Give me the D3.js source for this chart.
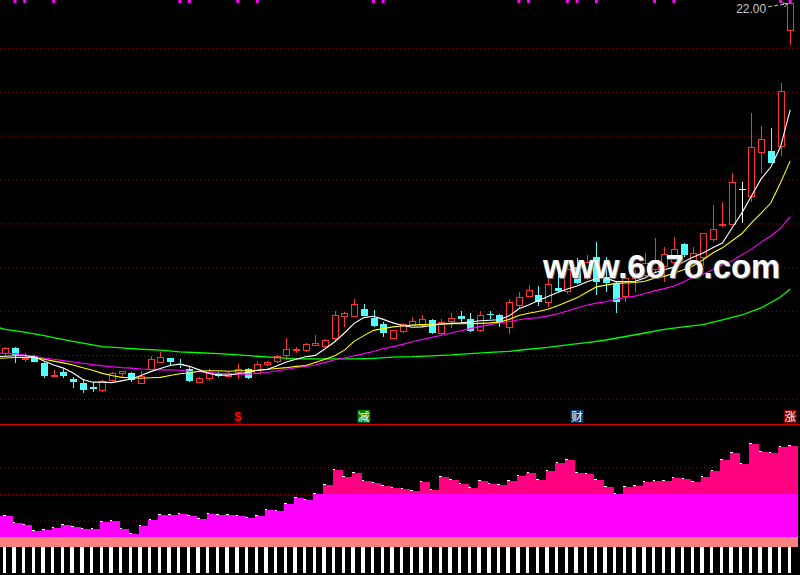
<!DOCTYPE html>
<html>
<head>
<meta charset="utf-8">
<script src="https://cdn.jsdelivr.net/npm/d3@7"></script>
<style>
  html, body { margin: 0; padding: 0; background: #000; }
  svg { display: block; }
</style>
</head>
<body>
<div id="chart"></div>
<script>
// daily candles, index 0..81
var opens = [14.03,14.14,13.88,13.97,13.80,13.49,13.61,13.44,13.36,13.25,
  13.17,13.40,13.56,13.57,13.34,13.65,13.81,13.91,13.78,13.67,
  13.37,13.46,13.57,13.51,13.59,13.66,13.57,13.77,13.84,13.97,
  14.08,14.09,14.21,14.19,14.36,14.86,14.86,15.04,14.84,14.69,
  14.37,14.52,14.67,14.65,14.79,14.47,14.75,14.88,14.80,14.54,
  14.93,14.91,14.62,15.12,15.32,15.36,15.18,15.51,15.43,16.00,
  15.74,16.21,15.77,15.62,15.32,15.74,15.79,15.93,16.00,16.09,
  16.52,16.11,16.20,16.61,16.93,16.97,17.75,17.59,18.60,18.64,
  18.73,21.38];
var highs = [14.18,14.16,14.04,13.99,13.84,13.65,13.66,13.49,13.44,13.34,
  13.42,13.59,13.62,13.61,13.63,13.97,14.06,13.92,13.89,13.72,
  13.48,13.66,13.61,13.60,13.78,13.69,13.86,13.86,13.98,14.37,
  14.16,14.26,14.44,14.35,14.98,14.97,15.26,15.15,15.01,14.75,
  14.56,14.72,14.85,14.91,14.80,14.82,14.94,15.00,14.94,14.98,
  14.98,14.92,15.26,15.43,15.58,15.56,15.78,15.93,16.11,16.19,
  16.27,16.57,16.21,15.66,15.77,15.93,16.31,16.65,16.46,16.67,
  16.55,16.45,16.77,17.41,17.48,18.13,17.94,19.51,19.21,19.15,
  20.19,22.00];
var lows = [13.97,13.80,13.83,13.83,13.47,13.48,13.47,13.24,13.13,13.15,
  13.15,13.38,13.47,13.38,13.33,13.65,13.81,13.76,13.69,13.38,
  13.36,13.40,13.49,13.49,13.44,13.45,13.57,13.74,13.81,13.88,
  14.04,14.06,14.21,14.18,14.29,14.63,14.86,14.88,14.63,14.41,
  14.35,14.50,14.65,14.63,14.47,14.44,14.60,14.72,14.52,14.52,
  14.80,14.62,14.47,15.05,15.31,15.11,15.08,15.43,15.38,15.61,
  15.70,15.36,15.43,14.95,15.20,15.43,15.74,15.89,15.66,16.04,
  16.21,16.06,16.02,16.57,16.91,16.97,17.00,17.48,18.13,18.37,
  18.52,21.05];
var closes = [14.14,13.99,13.91,13.84,13.51,13.52,13.51,13.38,13.19,13.21,
  13.38,13.57,13.62,13.42,13.51,13.88,13.94,13.83,13.75,13.40,
  13.46,13.59,13.52,13.57,13.65,13.47,13.78,13.82,13.96,14.12,
  14.12,14.23,14.24,14.33,14.88,14.94,15.13,14.88,14.65,14.48,
  14.54,14.68,14.76,14.80,14.50,14.72,14.82,14.81,14.54,14.88,
  14.89,14.72,15.18,15.30,15.45,15.20,15.60,15.45,15.93,15.62,
  16.09,15.66,15.62,15.20,15.74,15.85,16.08,16.15,16.27,16.40,
  16.26,16.31,16.75,16.84,16.95,17.92,17.75,18.72,18.89,18.37,
  20.00,22.00];

// moving averages, index -1..81
var ma5 = [13.95,13.96,13.97,13.97,13.95,13.85,13.76,13.69,13.58,13.43,13.37,
  13.37,13.36,13.40,13.44,13.52,13.61,13.68,13.75,13.78,13.73,
  13.65,13.57,13.53,13.53,13.56,13.59,13.64,13.66,13.74,13.83,
  13.89,13.95,13.98,14.13,14.29,14.49,14.71,14.84,14.87,14.80,
  14.72,14.66,14.62,14.63,14.66,14.70,14.71,14.72,14.74,14.77,
  14.78,14.79,14.88,15.04,15.13,15.23,15.32,15.41,15.49,15.56,
  15.65,15.73,15.74,15.66,15.66,15.67,15.74,15.86,15.93,15.99,
  16.11,16.22,16.31,16.43,16.54,16.88,17.22,17.61,18.00,18.27,
  18.73,19.57];
var ma10 = [13.91,13.92,13.93,13.93,13.93,13.89,13.85,13.81,13.76,13.70,13.64,
  13.57,13.52,13.48,13.47,13.46,13.47,13.48,13.52,13.56,13.58,
  13.62,13.63,13.63,13.62,13.63,13.63,13.64,13.66,13.68,13.70,
  13.73,13.75,13.82,13.89,13.97,14.10,14.30,14.43,14.55,14.59,
  14.63,14.65,14.67,14.68,14.69,14.69,14.70,14.70,14.70,14.71,
  14.72,14.74,14.80,14.89,14.94,14.98,15.03,15.11,15.20,15.29,
  15.42,15.54,15.58,15.62,15.63,15.64,15.67,15.74,15.78,15.85,
  15.93,16.02,16.16,16.31,16.43,16.59,16.75,17.00,17.22,17.45,
  17.91,18.41];
var ma20 = [14.03,14.03,14.02,13.99,13.96,13.92,13.89,13.86,13.83,13.80,13.77,
  13.74,13.72,13.70,13.69,13.67,13.66,13.65,13.65,13.64,13.62,
  13.61,13.59,13.57,13.56,13.55,13.55,13.57,13.59,13.63,13.66,
  13.70,13.73,13.76,13.82,13.88,13.92,13.97,14.02,14.07,14.13,
  14.18,14.23,14.29,14.34,14.39,14.44,14.49,14.54,14.59,14.64,
  14.68,14.72,14.75,14.79,14.82,14.84,14.88,14.93,14.99,15.06,
  15.12,15.17,15.20,15.26,15.30,15.33,15.39,15.45,15.50,15.56,
  15.65,15.77,15.83,15.93,16.04,16.13,16.27,16.40,16.56,16.70,
  16.88,17.14];
var ma60Idx = [-1].concat(d3.range(0, 81, 2), [81]);
var ma60 = [14.63,14.57,14.51,14.43,14.34,14.26,14.18,14.15,14.12,14.10,14.06,
  14.04,14.02,13.99,13.96,13.93,13.90,13.90,13.90,13.90,13.91,
  13.94,13.95,13.97,13.99,14.02,14.05,14.07,14.12,14.16,14.22,
  14.27,14.33,14.41,14.49,14.57,14.63,14.68,14.79,14.90,15.06,
  15.31,15.49];

// lower indicator, index -1..81
var lowerVals = [1.15,1.15,0.89,0.81,0.59,0.63,0.71,0.81,0.75,0.68,0.66,
  0.93,0.96,0.66,0.48,0.78,1.00,1.19,1.20,1.22,1.15,
  1.05,1.22,1.19,1.19,1.15,1.07,1.15,1.37,1.34,1.60,
  1.82,1.75,1.97,2.31,2.87,2.60,2.75,2.46,2.38,2.27,
  2.19,2.16,2.08,2.42,2.12,2.63,2.49,2.37,2.19,2.46,
  2.37,2.31,2.46,2.64,2.75,2.51,2.85,3.15,3.24,2.76,
  2.72,2.51,2.23,1.99,2.23,2.27,2.42,2.46,2.47,2.57,
  2.53,2.42,2.62,2.85,3.24,3.50,3.09,3.86,3.56,3.50,
  3.75,3.78];
var lowerBase = 0.38, pinkLevel = 2;

var priceGrid = [13, 14, 15, 16, 17, 18, 19, 20, 21];
var lowerGrid = [1, 2, 3];
var topMarks = [1, 2, 5, 18, 19, 24, 26, 38, 39, 53, 54, 58, 59, 61, 67, 69, 80, 81];
var signIdx = [24, 37, 59, 81];
var signText = ["$", "减", "财", "涨"];
var signFill = [null, "#008000", "#003c78", "#800000"];

var width = 800, height = 575;
var red = "#ff3232", cyan = "#54fcfc";

var xScale = d3.scaleLinear().domain([0, 81]).range([5.3, 790.2]);
var yScale = d3.scaleLinear().domain([13, 22]).range([398.4, 3.3]);
var vScale = d3.scaleLinear().domain([0, 3]).range([547.1, 466.7]);
var step = xScale(1) - xScale(0);

var svg = d3.select("#chart").append("svg")
    .attr("width", width)
    .attr("height", height)
    .style("background", "#000");

// dotted grids
function grid(scale, values) {
  var g = svg.append("g")
    .call(d3.axisRight(scale).tickValues(values).tickSize(width).tickFormat(""));
  g.select(".domain").remove();
  g.selectAll(".tick line")
    .attr("stroke", "#a00000")
    .attr("stroke-dasharray", "1,3")
    .attr("transform", "translate(0,0.5)");
}
grid(yScale, priceGrid);
grid(vScale, lowerGrid);

svg.append("line")
  .attr("x1", 0).attr("x2", width)
  .attr("y1", 424.5).attr("y2", 424.5)
  .attr("stroke", "#d00000")
  .attr("stroke-width", 1.5);

// top markers
svg.append("g").selectAll("rect").data(topMarks).join("rect")
  .attr("x", d => xScale(d) - 1.5)
  .attr("y", 0)
  .attr("width", 3)
  .attr("height", 3)
  .attr("fill", "#ff00ff");

// candles
var cg = svg.append("g").attr("shape-rendering", "crispEdges");
closes.forEach(function(c, i) {
  var o = opens[i], x = Math.round(xScale(i)) + 0.5;
  var top = yScale(Math.max(o, c)), bot = yScale(Math.min(o, c));
  var hy = yScale(highs[i]), ly = yScale(lows[i]);
  if (c > o) {
    cg.append("line").attr("x1", x).attr("x2", x).attr("y1", hy).attr("y2", top).attr("stroke", red);
    cg.append("line").attr("x1", x).attr("x2", x).attr("y1", bot).attr("y2", ly).attr("stroke", red);
    cg.append("rect")
      .attr("x", x - 3).attr("y", top)
      .attr("width", 6).attr("height", Math.max(bot - top, 0.8))
      .attr("fill", "#000").attr("stroke", red);
  } else if (c < o) {
    cg.append("line").attr("x1", x).attr("x2", x).attr("y1", hy).attr("y2", ly).attr("stroke", cyan);
    cg.append("rect")
      .attr("x", x - 3.5).attr("y", top)
      .attr("width", 7).attr("height", Math.max(bot - top, 1))
      .attr("fill", cyan);
  } else {
    cg.append("line").attr("x1", x).attr("x2", x).attr("y1", hy).attr("y2", ly).attr("stroke", "#fff");
    cg.append("line").attr("x1", x - 3.5).attr("x2", x + 3.5).attr("y1", top).attr("y2", top).attr("stroke", "#fff");
  }
});

// moving averages
var maLine = d3.line()
  .x((d, i) => xScale(i - 1))
  .y(d => yScale(d));

svg.append("path")
  .datum(ma60)
  .attr("fill", "none")
  .attr("stroke", "#00ff00")
  .attr("stroke-width", 1.3)
  .attr("d", d3.line().x((d, i) => xScale(ma60Idx[i])).y(d => yScale(d)));

[[ma20, "#ff00ff"], [ma10, "#ffff00"], [ma5, "#ffffff"]].forEach(function(m) {
  svg.append("path")
    .datum(m[0])
    .attr("fill", "none")
    .attr("stroke", m[1])
    .attr("stroke-width", 1.1)
    .attr("d", maLine);
});

// signs above the lower panel
var sg = svg.append("g").selectAll("g").data(signIdx).join("g")
  .attr("transform", d => "translate(" + xScale(d) + ",0)");
sg.filter((d, i) => signFill[i])
  .append("rect")
  .attr("x", -6.3).attr("y", 410)
  .attr("width", 12.7).attr("height", 12.7)
  .attr("fill", (d, i) => signFill[signIdx.indexOf(d)]);
sg.append("text")
  .attr("x", 0)
  .attr("y", 421)
  .attr("text-anchor", "middle")
  .attr("fill", (d, i) => i === 0 ? "#ff0000" : "#fff")
  .style("font-family", (d, i) => i === 0 ? "'Liberation Sans', sans-serif" : "'Noto Sans CJK SC', sans-serif")
  .style("font-weight", (d, i) => i === 0 ? "bold" : "normal")
  .style("font-size", (d, i) => i === 0 ? "13px" : "11.5px")
  .text((d, i) => signText[i]);

// lower panel bars
var lg = svg.append("g").attr("shape-rendering", "crispEdges");
lg.append("rect")
  .attr("x", 0).attr("y", vScale(lowerBase))
  .attr("width", xScale(81) + 7.4)
  .attr("height", vScale(0) - vScale(lowerBase))
  .attr("fill", "#ff8080");
lg.selectAll(".mag").data(lowerVals).join("rect")
  .attr("class", "mag")
  .attr("x", (d, i) => xScale(i - 1) - 2.2)
  .attr("width", step + 0.3)
  .attr("y", d => vScale(Math.min(d, pinkLevel)))
  .attr("height", d => vScale(lowerBase) - vScale(Math.min(d, pinkLevel)))
  .attr("fill", "#ff00ff");
lg.selectAll(".pink").data(lowerVals).join("rect")
  .attr("class", "pink")
  .attr("x", (d, i) => xScale(i - 1) - 2.2)
  .attr("width", step + 0.3)
  .attr("y", d => vScale(Math.max(d, pinkLevel)))
  .attr("height", d => vScale(pinkLevel) - vScale(Math.max(d, pinkLevel)))
  .attr("fill", "#ff0080");
lg.selectAll(".tk").data(lowerVals).join("rect")
  .attr("class", "tk")
  .attr("x", (d, i) => xScale(i - 1) - 2)
  .attr("y", d => vScale(d) - 1)
  .attr("width", 2.5)
  .attr("height", 1)
  .attr("fill", "#fff");
lg.selectAll(".st").data(closes).join("rect")
  .attr("class", "st")
  .attr("x", (d, i) => xScale(i) - 2.7)
  .attr("y", vScale(0))
  .attr("width", 3.4)
  .attr("height", 573.3 - vScale(0))
  .attr("fill", "#fff");

// last price tag
var hx = xScale(81), hy = yScale(highs[81]);
svg.append("text")
  .attr("x", hx - 24)
  .attr("y", hy + 9.5)
  .attr("text-anchor", "end")
  .attr("fill", "#c8c8c8")
  .style("font-family", "'Liberation Sans', Arial, sans-serif")
  .style("font-size", "12px")
  .text(highs[81].toFixed(2));
svg.append("path")
  .attr("d", "M" + (hx - 22) + "," + (hy + 3.5) + "L" + (hx - 3) + "," + (hy + 0.5))
  .attr("stroke", "#c8c8c8")
  .attr("stroke-dasharray", "4,2")
  .attr("fill", "none");
svg.append("path")
  .attr("d", "M" + (hx - 8) + "," + (hy - 0.5) + "L" + (hx - 3) + "," + (hy + 0.5) + "L" + (hx - 6) + "," + (hy + 4))
  .attr("stroke", "#c8c8c8")
  .attr("fill", "none");

// watermark
svg.append("text")
  .attr("x", 544).attr("y", 278.5)
  .attr("fill", "#707070")
  .attr("textLength", 237).attr("lengthAdjust", "spacingAndGlyphs")
  .style("font-family", "'Liberation Sans', Arial, sans-serif")
  .style("font-weight", "bold")
  .style("font-size", "33px")
  .text("www.6o7o.com");
svg.append("text")
  .attr("x", 543).attr("y", 277.5)
  .attr("fill", "#fff")
  .attr("textLength", 237).attr("lengthAdjust", "spacingAndGlyphs")
  .style("font-family", "'Liberation Sans', Arial, sans-serif")
  .style("font-weight", "bold")
  .style("font-size", "33px")
  .text("www.6o7o.com");
</script>
</body>
</html>
